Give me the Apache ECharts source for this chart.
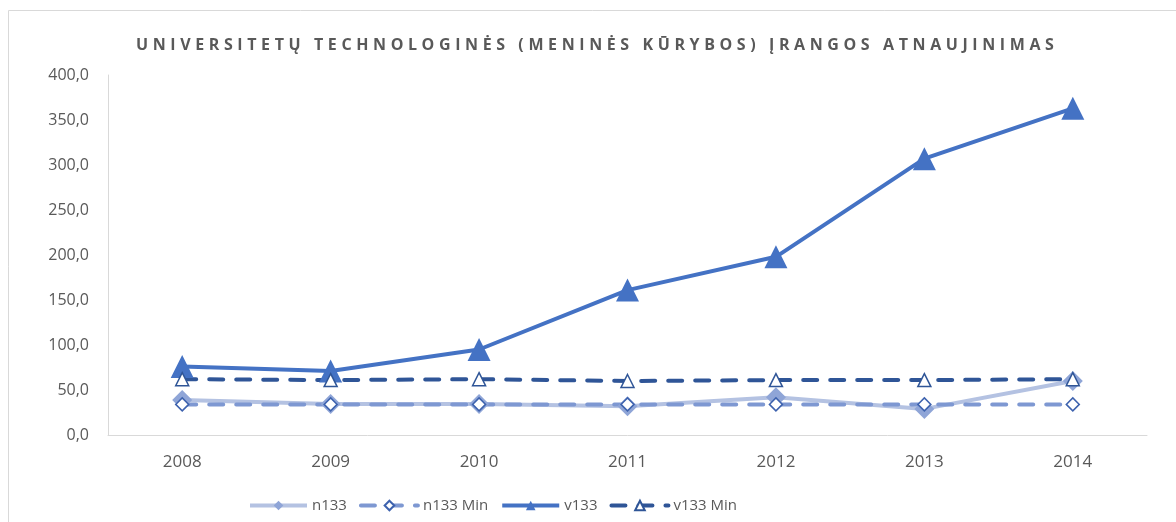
<!DOCTYPE html>
<html>
<head>
<meta charset="utf-8">
<script src="https://cdn.jsdelivr.net/npm/echarts@6/dist/echarts.min.js"></script>
<style>
  html, body { margin: 0; padding: 0; background: #fff; }
  .wrap { position: relative; width: 1176px; height: 522px; }
  #chart { width: 1176px; height: 522px; }
  .title {
    position: absolute; left: 136px; top: 33px; white-space: nowrap;
    font-family: "Open Sans", sans-serif; font-weight: bold;
    font-size: 16px; letter-spacing: 4.6px; color: #595959; pointer-events: none;
  }
</style>
</head>
<body>
<div class="wrap">
  <div id="chart"></div>
  <div class="title">UNIVERSITETŲ TECHNOLOGINĖS (MENINĖS KŪRYBOS) ĮRANGOS ATNAUJINIMAS</div>
</div>
<script>
// duomenys
const years = ['2008', '2009', '2010', '2011', '2012', '2013', '2014'];
const n133 = [39, 34.5, 34.5, 32, 42, 29, 60];
const n133Min = [34, 34, 34, 34, 34, 34, 34];
const v133 = [76, 71, 95, 161, 198, 307, 363];
const v133Min = [62, 61, 62, 60, 61, 61, 62];

const chart = echarts.init(document.getElementById('chart'));
const font = '"Open Sans", sans-serif';

const option = {
  animation: false,
  graphic: [{
    type: 'rect',
    shape: { x: 8.5, y: 10.5, width: 1200, height: 560 },
    style: { fill: 'none', stroke: '#d9d9d9', lineWidth: 1 },
    silent: true
  }],
  grid: { left: 108, right: 29, top: 75, bottom: 87 },
  legend: {
    bottom: 4,
    left: 243,
    itemWidth: 57,
    itemHeight: 12,
    itemGap: 12,
    lineStyle: { width: 4 },
    textStyle: { color: '#595959', fontSize: 15, fontFamily: font },
    data: ['n133', 'n133 Min', 'v133', 'v133 Min']
  },
  xAxis: {
    type: 'category',
    data: years,
    axisLine: { lineStyle: { color: '#d9d9d9', width: 1 } },
    axisTick: { show: false },
    axisLabel: { color: '#595959', fontSize: 17, fontFamily: font, margin: 19 }
  },
  yAxis: {
    type: 'value',
    min: 0, max: 400, interval: 50,
    axisLine: { show: true, lineStyle: { color: '#d9d9d9', width: 1 } },
    splitLine: { show: false },
    axisLabel: {
      color: '#595959', fontSize: 16, fontFamily: font, margin: 19,
      formatter: v => v.toFixed(1).replace('.', ',')
    }
  },
  series: [
    {
      name: 'n133', type: 'line', data: n133,
      symbol: 'diamond', symbolSize: 20,
      lineStyle: { color: '#b4c2e2', width: 4 },
      itemStyle: { color: '#8fa5d7' }
    },
    {
      name: 'n133 Min', type: 'line', data: n133Min,
      symbol: 'diamond', symbolSize: 13,
      lineStyle: { color: '#7e98d2', width: 4, type: [14, 13], cap: 'round' },
      itemStyle: { color: '#fff', borderColor: '#3d62ae', borderWidth: 1.5 }
    },
    {
      name: 'v133', type: 'line', data: v133,
      symbol: 'triangle', symbolSize: 23,
      lineStyle: { color: '#4472c4', width: 4 },
      itemStyle: { color: '#4472c4' }
    },
    {
      name: 'v133 Min', type: 'line', data: v133Min,
      symbol: 'triangle', symbolSize: 13,
      lineStyle: { color: '#2f5597', width: 4, type: [14, 13], cap: 'round' },
      itemStyle: { color: '#fff', borderColor: '#2f5597', borderWidth: 1.5 }
    }
  ]
};
option && chart.setOption(option);
</script>
</body>
</html>
